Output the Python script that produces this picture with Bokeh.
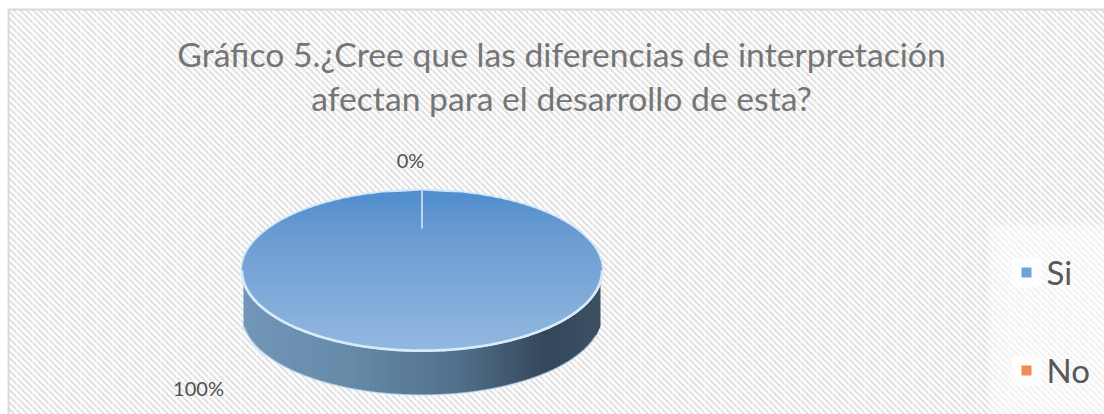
import numpy as np
from bokeh.embed import file_html
from bokeh.resources import INLINE
from bokeh.plotting import figure
from bokeh.models import Range1d
from bokeh.core.properties import value

TITLE_LINES = ["Gráfico 5.¿Cree que las diferencias de interpretación",
               "afectan para el desarrollo de esta?"]
CATEGORIES = ["Si", "No"]
VALUES = [100, 0]
PCT_LABELS = ["100%", "0%"]
COLORS = ["#6fa3d8", "#ee8d52"]

W, H = 1104, 414
p = figure(width=W, height=H, output_backend="svg", toolbar_location=None,
           x_range=Range1d(0, W), y_range=Range1d(H, 0), min_border=0,
           x_axis_type=None, y_axis_type=None)
p.grid.visible = False
p.outline_line_color = None
p.background_fill_color = "white"
p.border_fill_color = "white"

# chart area
L, T = 8, 9
p.quad(left=L, right=W + 4, top=T, bottom=H + 4, fill_color="white", line_color=None)

# diagonal weave of the chart area, clipped to it by construction
step = 6.4
offs = np.arange(L - (H - T), W, step)
x0 = np.maximum(offs, L)
y0 = T + (x0 - offs)
x1 = np.minimum(offs + (H - T), W)
y1 = T + (x1 - offs)
p.segment(x0, y0, x1, y1, line_color="#e3e3e3", line_width=2.3)
vx = np.arange(L + 8, W, 16)
p.segment(vx, [T] * len(vx), vx, [H] * len(vx), line_color="white", line_alpha=0.45, line_width=1)
p.quad(left=L, right=W + 4, top=T, bottom=H + 4, fill_color=None, line_color="#d9d9d9", line_width=2)

# legend backing with a feathered edge
for grow in range(6):
    p.quad(left=[986 + 2 * grow], right=[W], top=[220 + 2 * grow], bottom=[H],
           fill_color="white", fill_alpha=0.14, line_color=None)

CX, CY, RX, RY, DEPTH = 421.5, 270, 180, 80, 44


def lerp(a, b, t):
    a = np.array([int(a[i:i + 2], 16) for i in (1, 3, 5)])
    b = np.array([int(b[i:i + 2], 16) for i in (1, 3, 5)])
    c = (a + (b - a) * t).round().astype(int)
    return "#%02x%02x%02x" % tuple(c)


# pie wall: lower half of the ellipse swept downward, shaded left to right
wall_stops = [(0, "#7296b8"), (0.3, "#668aa8"), (0.6, "#52708c"), (0.85, "#34475a"), (1, "#3c5064")]
n = 90
edges = np.linspace(CX - RX + 2, CX + RX - 2, n + 1)
xs, ys, cols = [], [], []
rim_x, rim_y = [], []
for i in range(n):
    a0, a1 = edges[i], edges[i + 1]
    y0 = CY + RY * np.sqrt(max(0, 1 - ((a0 - CX) / RX) ** 2))
    y1 = CY + RY * np.sqrt(max(0, 1 - ((a1 - CX) / RX) ** 2))
    xs.append([a0, a1, a1, a0])
    ys.append([y0 - 3, y1 - 3, y1 + DEPTH, y0 + DEPTH])
    rim_x.append(a0)
    rim_y.append(y0 + DEPTH + 0.5)
    t = (i + 0.5) / n
    for (a, ca), (b, cb) in zip(wall_stops, wall_stops[1:]):
        if a <= t <= b:
            cols.append(lerp(ca, cb, (t - a) / (b - a)))
            break
p.patches(xs, ys, fill_color=cols, line_color=cols, line_width=1)
p.line(rim_x, rim_y, line_color="#bcdcf2", line_alpha=0.7, line_width=1.5)

# pie top: horizontal bands clipped to the ellipse, darker toward the back
theta = np.linspace(0, 2 * np.pi, 361)
p.patch(CX + (RX + 1.5) * np.cos(theta), CY + (RY + 1.5) * np.sin(theta),
        fill_color="#cfe6f8", line_color=None)
n = 80
edges = np.linspace(CY - RY, CY + RY, n + 1)
xs, ys, cols = [], [], []
for i in range(n):
    y0, y1 = edges[i], edges[i + 1]
    w0 = RX * np.sqrt(max(0, 1 - ((y0 - CY) / RY) ** 2))
    w1 = RX * np.sqrt(max(0, 1 - ((y1 - CY) / RY) ** 2))
    xs.append([CX - w0, CX + w0, CX + w1, CX - w1])
    ys.append([y0, y0, y1 + 0.6, y1 + 0.6])
    t = (i + 0.5) / n
    cols.append(lerp("#4f8dcd", "#6d9dd2", t / 0.3) if t < 0.3 else lerp("#6d9dd2", "#92b8e0", (t - 0.3) / 0.7))
p.patches(xs, ys, fill_color=cols, line_color=None)

# light rim on the front of the top face
front = np.linspace(0, np.pi, 181)
p.line(CX + RX * np.cos(front), CY + RY * np.sin(front), line_color="#d8ecfa", line_width=2.5)

# boundary of the empty "No" slice at twelve o'clock
start = VALUES[1] / sum(VALUES)
p.segment(x0=[CX + RX * np.sin(start)], y0=[CY - RY], x1=[CX + RX * np.sin(start)], y1=[CY - RY + 38],
          line_color="#dcedf9", line_width=1.5)

# title
p.text(x=[561, 561], y=[53, 97], text=TITLE_LINES, text_align="center", text_baseline="middle",
       text_font=value("Lato"), text_font_size="33.7px", text_color="#757575")

# percentage labels
p.text(x=[198, 410], y=[387, 159], text=PCT_LABELS, text_align="center", text_baseline="middle",
       text_font=value("Lato"), text_font_size="20px", text_color="#505050")

# legend
ly = [272, 370]
p.quad(left=[1011] * 2, right=[1041] * 2, top=[y - 15 for y in ly], bottom=[y + 15 for y in ly],
       fill_color="white", fill_alpha=0.75, line_color=None, border_radius=5)
p.quad(left=[1021] * 2, right=[1031] * 2, top=[y - 5 for y in ly], bottom=[y + 5 for y in ly],
       fill_color=COLORS, line_color=None)
p.text(x=[1046] * 2, y=[y - 1 for y in ly], text=CATEGORIES, text_align="left", text_baseline="middle",
       text_font=value("Lato"), text_font_size="33px", text_color="#585858")

open("out.html", "w").write(file_html(p, INLINE))
